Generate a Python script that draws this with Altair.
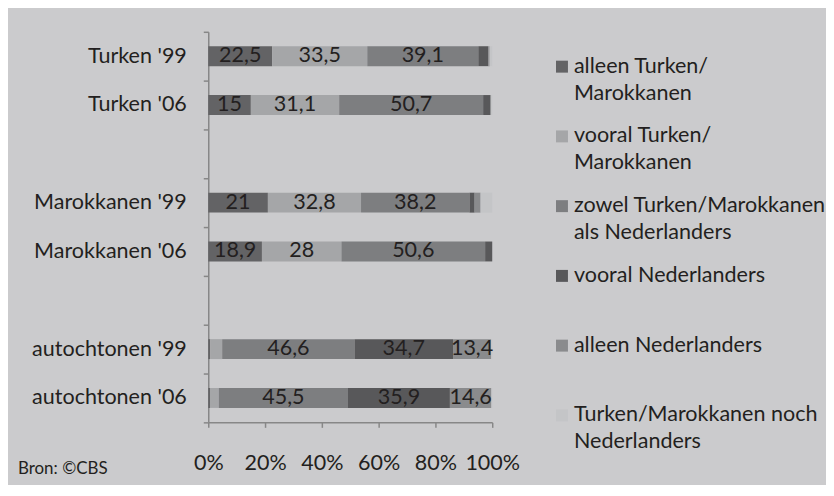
import altair as alt
import pandas as pd

# ---- data ----
groups = ["Turken '99", "Turken '06", " ", "Marokkanen '99", "Marokkanen '06", "  ",
          "autochtonen '99", "autochtonen '06"]
series = ["alleen Turken/Marokkanen", "vooral Turken/Marokkanen",
          "zowel Turken/Marokkanen als Nederlanders", "vooral Nederlanders",
          "alleen Nederlanders", "Turken/Marokkanen noch Nederlanders"]
legend_line1 = ["alleen Turken/", "vooral Turken/", "zowel Turken/Marokkanen",
                "vooral Nederlanders", "alleen Nederlanders", "Turken/Marokkanen noch"]
legend_line2 = ["Marokkanen", "Marokkanen", "als Nederlanders", "", "", "Nederlanders"]
colors = ["#636365", "#a5a6a8", "#7d7e80", "#58585a", "#8a8b8d", "#c4c5c7"]

turken_99 = [22.5, 33.5, 39.1, 3.5, 0.5, 0.9]
turken_06 = [15, 31.1, 50.7, 2.5, 0.3, 0.4]
marokkanen_99 = [21, 32.8, 38.2, 1.8, 2.1, 4.1]
marokkanen_06 = [18.9, 28, 50.6, 2.5, 0, 0]
autochtonen_99 = [0.7, 4.2, 46.6, 34.7, 13.4, 0.4]
autochtonen_06 = [0.6, 3.1, 45.5, 35.9, 14.6, 0.3]

x_ticks = [0, 20, 40, 60, 80, 100]
source_note = ["Bron: ©CBS"]

rows = []
for g, vals in [(groups[0], turken_99), (groups[1], turken_06),
                (groups[3], marokkanen_99), (groups[4], marokkanen_06),
                (groups[6], autochtonen_99), (groups[7], autochtonen_06)]:
    for i, (s, v) in enumerate(zip(series, vals)):
        rows.append({"group": g, "series": s, "order": i, "value": v})
df = pd.DataFrame(rows)

legend_df = pd.DataFrame({"series": series, "l1": legend_line1, "l2": legend_line2})
note_df = pd.DataFrame({"note": source_note})

FONT = "Lato"
FS = 21.6
TXT = "#231f20"
AX = "#878787"

color_scale = alt.Scale(domain=series, range=colors)
y_scale = alt.Scale(domain=groups, paddingInner=0, paddingOuter=0)

base = alt.Chart(df).transform_stack(
    stack="value", groupby=["group"], sort=[alt.SortField("order")], as_=["x0", "x1"]
).transform_calculate(
    mid="(datum.x0 + datum.x1) / 2",
    lab="replace(toString(datum.value), '.', ',')"
)

bars = base.mark_bar(size=20).encode(
    y=alt.Y("group:N", scale=y_scale, title=None,
            axis=alt.Axis(tickBand="extent", tickSize=5, labelPadding=17,
                          labelFontSize=FS, labelFont=FONT, labelColor=TXT,
                          domainColor=AX, tickColor=AX, domainWidth=1.5, tickWidth=1.5,
                          minExtent=201, maxExtent=201)),
    x=alt.X("x0:Q", scale=alt.Scale(domain=[0, 100], nice=False), title=None,
            axis=alt.Axis(values=x_ticks, labelExpr="datum.value + '%'", grid=False,
                          tickSize=5, labelPadding=25, labelFontSize=FS, labelFont=FONT,
                          labelColor=TXT, domainColor=AX, tickColor=AX,
                          domainWidth=1.5, tickWidth=1.5, labelFlush=False)),
    x2="x1:Q",
    color=alt.Color("series:N", scale=color_scale, legend=None),
)

labels = base.transform_filter("datum.value >= 10").mark_text(
    font=FONT, fontSize=FS, color=TXT, baseline="middle", align="center"
).encode(
    y=alt.Y("group:N", scale=y_scale),
    x=alt.X("mid:Q"),
    text="lab:N",
)

note = alt.Chart(note_df).mark_text(
    font=FONT, fontSize=17, color=TXT, align="left", baseline="middle"
).encode(x=alt.value(-191), y=alt.value(439), text="note:N")

main = alt.layer(bars, labels, note).properties(width=285, height=392)

leg_y = alt.Y("series:N", sort=series,
              scale=alt.Scale(domain=series, paddingInner=0, paddingOuter=0), axis=None)
leg_sq = alt.Chart(legend_df).mark_square(size=144, opacity=1).encode(
    y=leg_y, x=alt.value(12),
    color=alt.Color("series:N", scale=color_scale, legend=None),
)
leg_t1 = alt.Chart(legend_df).mark_text(
    font=FONT, fontSize=FS, color=TXT, align="left", baseline="middle"
).encode(y=leg_y, x=alt.value(24), text="l1:N")
leg_t2 = alt.Chart(legend_df).mark_text(
    font=FONT, fontSize=FS, color=TXT, align="left", baseline="middle", dy=27
).encode(y=leg_y, x=alt.value(24), text="l2:N")
legend = alt.layer(leg_sq, leg_t1, leg_t2).properties(width=277, height=420)

chart = alt.hconcat(main, legend, spacing=30).properties(
    padding={"left": 0, "top": 12, "right": 0, "bottom": 7},
    background="#cbcbcd",
).configure_view(stroke=None)

chart.save("out.html", embed_options={"renderer": "svg", "actions": False})
